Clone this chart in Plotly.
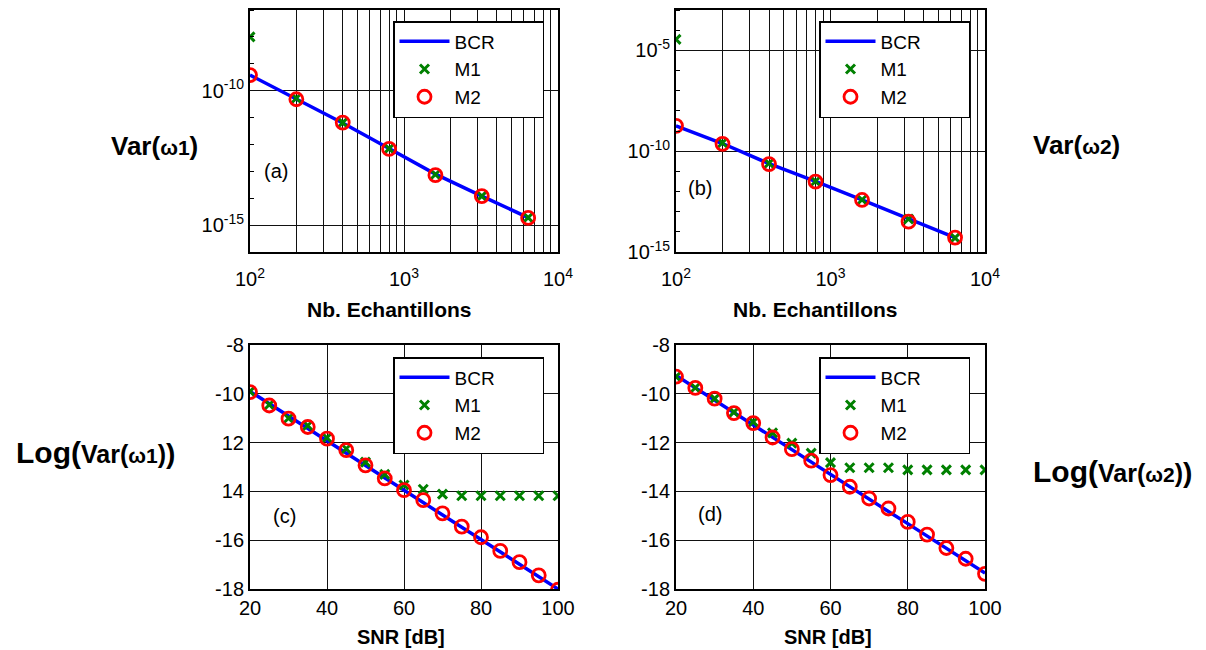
import plotly.graph_objects as go

# The page body has an 8px margin, so the figure is drawn 8px smaller and
# positions are measured from that offset.
OFF = 8
W, H = 1206 - OFF, 650 - OFF

# ---------------- data ----------------
n_samples = [100, 200, 400, 800, 1600, 3200, 6400]
bcr_a = [3.8e-10, 4.9e-11, 6.3e-12, 7.1e-13, 7.9e-14, 1.2e-14, 1.9e-15]
m1_a = [1.0e-8, 5.2e-11, 6.5e-12, 7.0e-13, 7.6e-14, 1.2e-14, 1.9e-15]
m2_a = [3.8e-10, 4.8e-11, 6.5e-12, 6.8e-13, 7.2e-14, 1.2e-14, 1.85e-15]

bcr_b = [1.8e-9, 2.4e-10, 2.4e-11, 3.2e-12, 3.8e-13, 4.5e-14, 5.2e-15]
m1_b = [3.5e-5, 2.6e-10, 2.5e-11, 3.2e-12, 3.9e-13, 4.3e-14, 5.0e-15]
m2_b = [1.8e-9, 2.3e-10, 2.3e-11, 3.1e-12, 3.8e-13, 3.2e-14, 5.2e-15]

snr = [20, 25, 30, 35, 40, 45, 50, 55, 60, 65, 70, 75, 80, 85, 90, 95, 100]
bcr_c = [-9.90, -10.41, -10.91, -11.42, -11.92, -12.43, -12.94, -13.44, -13.95,
         -14.46, -14.96, -15.47, -15.97, -16.48, -16.99, -17.49, -18.00]
m1_c = [-9.90, -10.45, -11.00, -11.30, -11.80, -12.25, -12.80, -13.30, -13.74,
        -13.91, -14.11, -14.18, -14.18, -14.18, -14.18, -14.18, -14.18]
m2_c = [-9.93, -10.48, -11.02, -11.36, -11.84, -12.31, -12.93, -13.47, -13.95,
        -14.36, -14.90, -15.44, -15.88, -16.44, -16.90, -17.44, -18.03]

bcr_d = [-9.25, -9.76, -10.26, -10.77, -11.27, -11.78, -12.29, -12.79, -13.30,
         -13.81, -14.31, -14.82, -15.32, -15.83, -16.34, -16.84, -17.35]
m1_d = [-9.30, -9.75, -10.20, -10.75, -11.15, -11.60, -12.02, -12.43, -12.82,
        -13.03, -13.03, -13.03, -13.12, -13.12, -13.12, -13.12, -13.12]
m2_d = [-9.30, -9.76, -10.20, -10.79, -11.20, -11.79, -12.27, -12.74, -13.33,
        -13.81, -14.29, -14.70, -15.25, -15.77, -16.32, -16.76, -17.38]

log_x_ticks = [100, 200, 300, 400, 500, 600, 700, 800, 900,
               1000, 2000, 3000, 4000, 5000, 6000, 7000, 8000, 9000, 10000]
log_x_text = ["10<sup>2</sup>", "", "", "", "", "", "", "", "",
              "10<sup>3</sup>", "", "", "", "", "", "", "", "", "10<sup>4</sup>"]
yticks_a = [1e-15, 1e-10]
ytext_a = ["10<sup>-15</sup>", "10<sup>-10</sup>"]
yminor_a = [1e-16, 1e-14, 1e-13, 1e-12, 1e-11, 1e-9, 1e-8, 1e-7]
yticks_b = [1e-15, 1e-10, 1e-5]
ytext_b = ["10<sup>-15</sup>", "10<sup>-10</sup>", "10<sup>-5</sup>"]
yminor_b = [1e-14, 1e-13, 1e-12, 1e-11, 1e-9, 1e-8, 1e-7, 1e-6, 1e-4, 1e-3]
snr_ticks = [20, 40, 60, 80, 100]
lin_yticks = [-18, -16, -14, -12, -10, -8]
lin_ytext_c = ["-18", "-16", "14", "12", "-10", "-8"]
lin_ytext_d = ["-18", "-16", "-14", "-12", "-10", "-8"]
names = ["BCR", "M1", "M2"]

FONT = "Liberation Sans, Arial, sans-serif"
BLUE, GREEN, RED = "#0000ff", "#008000", "#ff0000"

fig = go.Figure()
pad = "\u00a0" * 8


def add_panel(idx, x, bcr, m1, m2):
    suffix = "" if idx == 1 else str(idx)
    xa, ya = "x" + suffix, "y" + suffix
    lg = "legend" + suffix
    fig.add_trace(go.Scatter(x=x, y=bcr, mode="lines", name=names[0] + pad,
                             line=dict(color=BLUE, width=3.5),
                             xaxis=xa, yaxis=ya, legend=lg))
    fig.add_trace(go.Scatter(x=x, y=m1, mode="markers", name=names[1] + pad,
                             marker=dict(symbol="x-thin-open", size=9, color=GREEN,
                                         line=dict(color=GREEN, width=3)),
                             xaxis=xa, yaxis=ya, legend=lg))
    fig.add_trace(go.Scatter(x=x, y=m2, mode="markers", name=names[2] + pad,
                             marker=dict(symbol="circle-open", size=13, color=RED,
                                         line=dict(color=RED, width=2.8)),
                             xaxis=xa, yaxis=ya, legend=lg))


add_panel(1, n_samples, bcr_a, m1_a, m2_a)
add_panel(2, n_samples, bcr_b, m1_b, m2_b)
add_panel(3, snr, bcr_c, m1_c, m2_c)
add_panel(4, snr, bcr_d, m1_d, m2_d)


def px_x(p):
    return (p - OFF) / W


def px_y(p):
    return 1 - (p - OFF) / H


dom_x_left = [px_x(250), px_x(558)]
dom_x_right = [px_x(676), px_x(985)]
dom_y_top = [px_y(252), px_y(10)]
dom_y_bot = [px_y(589), px_y(345)]

tickfont = dict(family=FONT, size=20, color="black")
common_axis = dict(showline=True, linecolor="black", linewidth=2, mirror=True,
                   gridcolor="#111111", gridwidth=1, zeroline=False,
                   tickfont=tickfont, ticks="", automargin=False)

fig.update_layout(
    xaxis=dict(domain=dom_x_left, anchor="y", type="log", range=[2, 4],
               tickvals=log_x_ticks, ticktext=log_x_text, showgrid=True,
               ticklabelstandoff=8, **common_axis),
    yaxis=dict(domain=dom_y_top, anchor="x", type="log", range=[-16, -7],
               tickvals=yticks_a, ticktext=ytext_a, showgrid=True,
               minor=dict(tickvals=yminor_a, ticks="inside", ticklen=4,
                          tickcolor="black", showgrid=False), **common_axis),
    xaxis2=dict(domain=dom_x_right, anchor="y2", type="log", range=[2, 4],
                tickvals=log_x_ticks, ticktext=log_x_text, showgrid=True,
                ticklabelstandoff=8, **common_axis),
    yaxis2=dict(domain=dom_y_top, anchor="x2", type="log", range=[-15, -3],
                tickvals=yticks_b, ticktext=ytext_b, showgrid=True,
                minor=dict(tickvals=yminor_b, ticks="inside", ticklen=4,
                           tickcolor="black", showgrid=False), **common_axis),
    xaxis3=dict(domain=dom_x_left, anchor="y3", range=[20, 100],
                tickvals=snr_ticks, showgrid=True, **common_axis),
    yaxis3=dict(domain=dom_y_bot, anchor="x3", range=[-18, -8],
                tickvals=lin_yticks, ticktext=lin_ytext_c, showgrid=True, **common_axis),
    xaxis4=dict(domain=dom_x_right, anchor="y4", range=[20, 100],
                tickvals=snr_ticks, showgrid=True, **common_axis),
    yaxis4=dict(domain=dom_y_bot, anchor="x4", range=[-18, -8],
                tickvals=lin_yticks, ticktext=lin_ytext_d, showgrid=True, **common_axis),
)

legend_style = dict(bgcolor="white", bordercolor="black", borderwidth=1.5,
                    font=dict(family=FONT, size=19, color="black"),
                    xanchor="left", yanchor="top", itemwidth=50)

fig.update_layout(
    legend=dict(x=px_x(393), y=px_y(21), **legend_style),
    legend2=dict(x=px_x(819), y=px_y(21), **legend_style),
    legend3=dict(x=px_x(393), y=px_y(357), **legend_style),
    legend4=dict(x=px_x(819), y=px_y(357), **legend_style),
)

ann = []


def label(text, x, y, size, bold=False):
    ann.append(dict(text=f"<b>{text}</b>" if bold else text,
                    x=px_x(x), y=px_y(y), xref="paper", yref="paper",
                    showarrow=False, xanchor="center", yanchor="middle",
                    font=dict(family=FONT, size=size, color="black")))


label("(a)", 276, 171, 20)
label("(b)", 700, 188, 20)
label("(c)", 284, 516, 20)
label("(d)", 710, 514, 20)
label("Nb. Echantillons", 389, 309, 21, bold=True)
label("Nb. Echantillons", 815, 309, 21, bold=True)
label("SNR [dB]", 401, 637, 20, bold=True)
label("SNR [dB]", 828, 637, 20, bold=True)

sm = '<span style="font-size:21px">'
label(f"Var({sm}ω1</span>)", 154, 146, 26, bold=True)
label(f"Var({sm}ω2</span>)", 1076, 145, 26, bold=True)
label(f'<span style="font-size:30px">Log(</span>Var({sm}ω1</span>)<span style="font-size:28px">)</span>',
      95, 452, 25, bold=True)
label(f'<span style="font-size:30px">Log(</span>Var({sm}ω2</span>)<span style="font-size:28px">)</span>',
      1112, 471, 25, bold=True)

fig.update_layout(
    annotations=ann,
    width=W, height=H, autosize=False,
    margin=dict(l=0, r=0, t=0, b=0, autoexpand=False),
    paper_bgcolor="white", plot_bgcolor="white",
    font=dict(family=FONT, color="black"),
)

fig.write_html("out.html")
